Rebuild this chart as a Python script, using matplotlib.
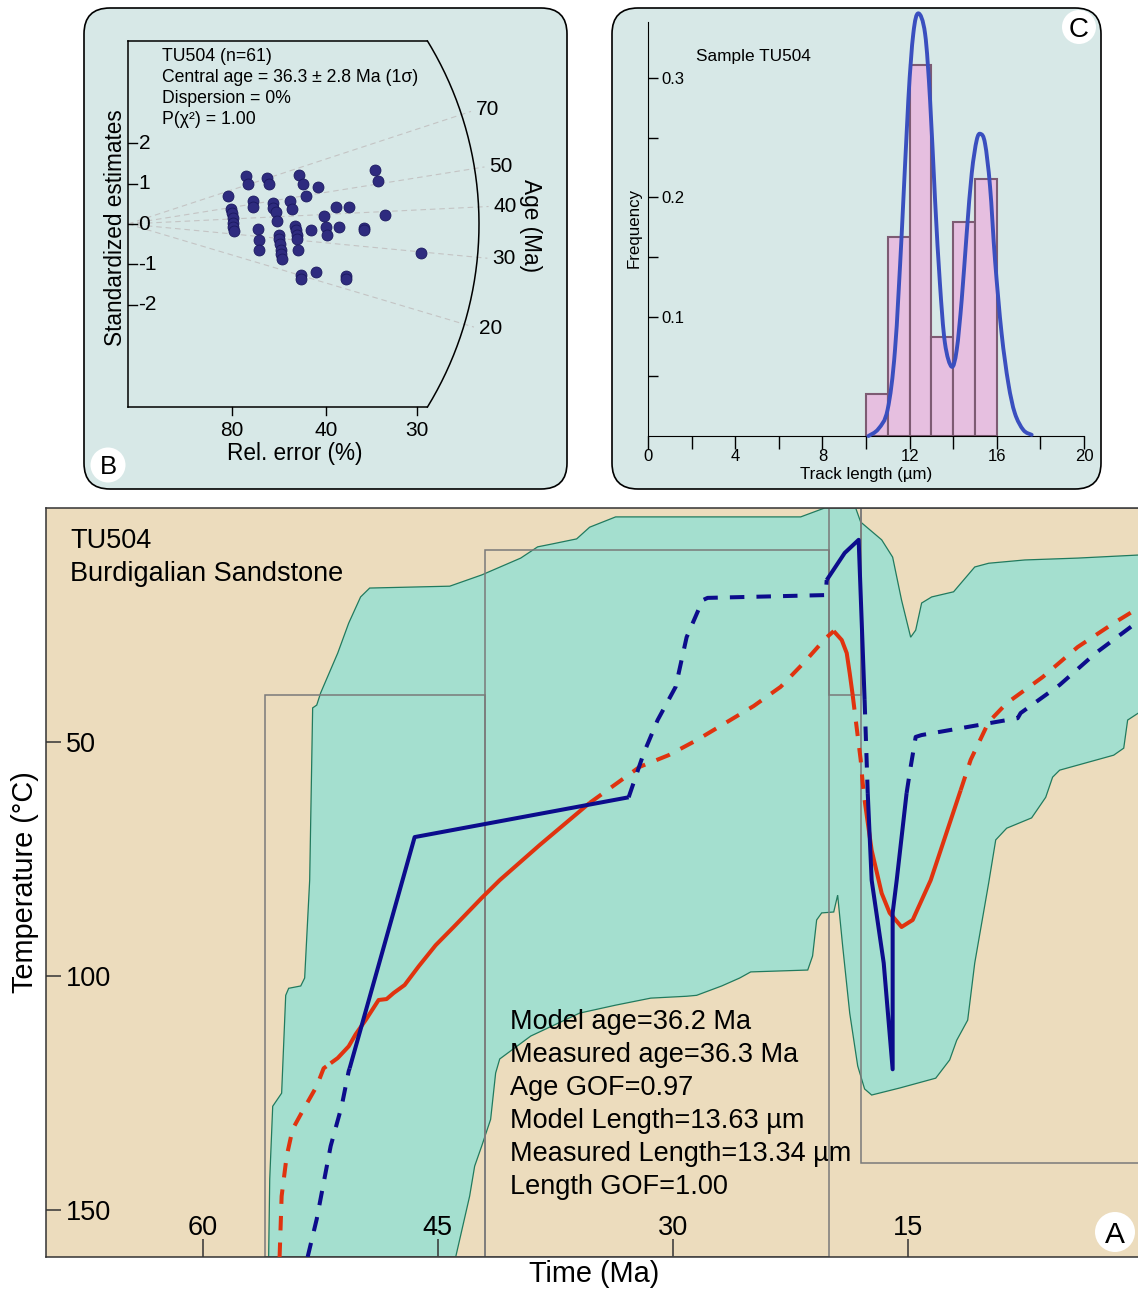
import numpy as np
import matplotlib.pyplot as plt
from matplotlib.patches import FancyBboxPatch, Circle, Rectangle, PathPatch
from matplotlib.path import Path

plt.rcParams['font.family'] = ['Liberation Sans', 'DejaVu Sans']

# ---------------- A: thermal history (time Ma, temperature degC) ----------------
env_cool_t = [55.79, 55.72, 55.53, 54.96, 54.70, 54.51, 53.74, 53.49, 53.17, 52.98, 52.72,
              52.47, 51.38, 50.68, 49.92, 49.34, 44.23, 42.19, 39.70, 38.62, 37.72, 36.13,
              35.30, 33.64, 21.83, 20.30, 18.32, 18.00, 16.66, 15.96, 15.39, 14.81, 14.49,
              14.11, 13.47, 12.07, 10.72, 9.83, 7.53, 4.15, 0.0]
env_cool_T = [160, 143.4, 127.8, 125.0, 104.1, 102.6, 102.1, 100.4, 79.5, 42.7, 42.1,
              39.5, 31.0, 24.6, 19.0, 17.1, 16.7, 14.3, 10.7, 8.3, 7.7, 6.6,
              4.1, 1.9, 1.9, 0, 0, 3.0, 6.8, 10.5, 19.7, 27.6, 26.1,
              20.3, 19.0, 17.9, 12.6, 11.8, 11.1, 10.7, 10.0]
env_hot_t = [0.0, 0.96, 1.21, 1.85, 5.30, 5.75, 6.19, 7.09, 8.68, 9.38, 9.83, 10.72, 11.17,
             11.87, 12.32, 13.21, 15.51, 17.30, 17.75, 18.19, 18.70, 19.15, 19.47, 19.72,
             20.49, 20.81, 21.07, 21.38, 25.02, 25.72, 26.87, 28.47, 29.11, 31.40, 33.64,
             35.94, 39.06, 41.04, 41.30, 41.62, 42.19, 42.64, 42.96, 43.85]
env_hot_T = [43.2, 45.3, 51.3, 52.8, 56.0, 57.5, 61.8, 66.2, 68.4, 70.9, 80.1, 97.2, 109.4,
             113.7, 117.9, 121.8, 123.9, 125.4, 124.1, 119.2, 107.9, 93.6, 82.7, 86.3,
             86.5, 88.0, 95.7, 98.7, 99.1, 100.4, 102.1, 104.1, 104.3, 104.7, 106.2,
             107.9, 112.8, 117.7, 120.7, 130.6, 136.3, 140.6, 147.0, 160]

# constraint boxes
box_t_old = [56, 42, 20, 18]
box_t_young = [42, 20, 18, 0]
box_T_top = [40, 9, 0, 0]
box_T_bot = [160, 160, 40, 140]

# weighted mean path (red) and best fit path (blue); cuts split dashed / solid pieces
red_t = [55.09, 54.96, 54.64, 54.26, 53.62, 52.72, 52.28, 51.83, 51.38, 50.68, 50.23, 49.60,
         48.77, 48.26, 47.81, 47.11, 46.21, 45.13, 43.98, 42.19, 41.04, 38.49, 35.30, 32.11,
         30.26, 28.47, 26.62, 24.83, 23.11, 21.64, 20.23, 19.72, 19.21, 18.89, 18.70, 18.51,
         18.26, 18.00, 17.87, 17.75, 17.30, 16.66, 16.15, 15.39, 14.68, 13.53, 11.62, 10.98,
         9.83, 8.68, 6.38, 4.15, 1.85, 0.0]
red_T = [160.0, 147.0, 138.5, 132.7, 128.8, 123.5, 119.7, 118.6, 117.5, 115.0, 112.4, 109.4,
         105.1, 104.9, 103.6, 101.9, 97.9, 93.4, 89.5, 83.3, 79.5, 72.0, 63.0, 55.3,
         52.8, 49.6, 45.9, 42.3, 38.2, 33.1, 27.8, 26.3, 28.2, 31.0, 35.3, 40.0,
         46.8, 53.8, 58.8, 62.4, 73.1, 82.3, 86.5, 89.5, 88.0, 79.5, 60.3, 53.8,
         45.7, 41.7, 36.1, 29.7, 24.6, 20.8]
red_cuts = [0, 7, 22, 31, 35, 39, 46, 53]

blue_t = [53.30, 52.72, 51.83, 51.13, 50.68, 50.62, 46.47, 32.81, 31.85, 30.96, 29.81, 29.11,
          28.09, 27.77, 20.23, 20.17, 19.02, 18.13, 17.75, 17.55, 17.30, 16.53, 15.96, 15.96,
          15.70, 15.07, 14.81, 14.49, 14.11, 7.98, 7.79, 5.30, 3.00, 0.0]
blue_T = [160.0, 151.9, 136.3, 127.8, 120.3, 119.7, 70.3, 61.8, 52.4, 45.3, 38.2, 27.6,
          19.7, 19.2, 18.6, 15.4, 9.6, 6.8, 41.0, 60.9, 79.5, 97.2, 119.9, 86.5,
          79.5, 60.9, 55.3, 48.9, 48.5, 44.9, 43.8, 37.8, 31.0, 23.5]
blue_cuts = [0, 5, 7, 15, 18, 19, 25, 33]

title_a = ['TU504', 'Burdigalian Sandstone']
stats_a = ['Model age=36.2 Ma', 'Measured age=36.3 Ma', 'Age GOF=0.97',
           'Model Length=13.63 µm', 'Measured Length=13.34 µm', 'Length GOF=1.00']

# ---------------- B: radial plot ----------------
rad_prec = [1.00, 1.03, 1.04, 1.05, 1.05, 1.05, 1.06, 1.18, 1.20, 1.25, 1.25, 1.30, 1.31, 1.31,
            1.39, 1.41, 1.45, 1.45, 1.48, 1.49, 1.51, 1.51, 1.52, 1.53, 1.53, 1.54, 1.62, 1.64,
            1.67, 1.68, 1.69, 1.69, 1.70, 1.71, 1.75, 1.78, 1.73, 1.73, 1.83, 1.88, 1.90, 1.96,
            1.98, 1.99, 2.08, 2.11, 2.18, 2.18, 2.21, 2.36, 2.36, 2.47, 2.50, 2.57, 2.93]
rad_z = [0.70, 0.37, 0.26, 0.14, 0.03, -0.07, -0.17, 1.19, 1.00, 0.57, 0.43, -0.13, -0.40, -0.64,
         1.13, 1.00, 0.51, 0.39, 0.29, 0.08, -0.27, -0.38, -0.50, -0.63, -0.74, -0.86, 0.57, 0.37,
         -0.05, -0.16, -0.27, -0.38, -0.63, 1.21, 1.00, 0.69, -1.27, -1.37, -0.16, -1.19, 0.91, 0.20,
         -0.07, -0.27, 0.41, -0.08, -1.28, -1.37, 0.41, -0.10, -0.15, 1.33, 1.06, 0.21, -0.71]
central_age = 36.3
age_ticks = [70, 50, 40, 30, 20]
z_ticks = [2, 1, 0, -1, -2]
rel_err_labels = ['80', '40', '30']
rel_err_pos = [1.04, 1.98, 2.89]
stats_b = ['TU504 (n=61)', 'Central age = 36.3 ± 2.8 Ma (1σ)', 'Dispersion = 0%', 'P(χ²) = 1.00']

# ---------------- C: track length histogram ----------------
len_edges = [10, 11, 12, 13, 14, 15, 16]
len_freq = [0.035, 0.167, 0.311, 0.083, 0.179, 0.215]
pdf_len = [10.11, 10.57, 10.99, 11.33, 11.64, 11.94, 12.17, 12.40, 12.71, 12.94, 13.17, 13.39,
           13.62, 13.93, 14.16, 14.39, 14.62, 14.85, 15.08, 15.26, 15.46, 15.69, 15.92, 16.22,
           16.53, 16.83, 17.22, 17.60]
pdf_freq = [0.000, 0.006, 0.022, 0.072, 0.170, 0.281, 0.337, 0.354, 0.337, 0.281, 0.197, 0.128,
            0.078, 0.058, 0.072, 0.114, 0.170, 0.220, 0.248, 0.253, 0.245, 0.209, 0.147, 0.086,
            0.044, 0.019, 0.005, 0.001]

# ---------------- figure ----------------
W, H = 1138, 1292
fig = plt.figure(figsize=(W / 100, H / 100), dpi=100)


def fbox(x0, y0, x1, y1):
    # pixel box (origin top-left) -> figure fraction rect
    return [x0 / W, 1 - y1 / H, (x1 - x0) / W, (y1 - y0) / H]


def smooth_path(x, y):
    # Catmull-Rom through the read points, drawn as cubic Bezier segments
    p = np.column_stack([x, y])
    verts, codes = [p[0]], [Path.MOVETO]
    for i in range(len(p) - 1):
        p0 = p[i - 1] if i > 0 else p[i]
        p1, p2 = p[i], p[i + 1]
        p3 = p[i + 2] if i + 2 < len(p) else p[i + 1]
        verts += [p1 + (p2 - p0) / 6, p2 - (p3 - p1) / 6, p2]
        codes += [Path.CURVE4] * 3
    return Path(verts, codes)


bg = fig.add_axes([0, 0, 1, 1], zorder=0)
bg.set_xlim(0, W)
bg.set_ylim(H, 0)
bg.axis('off')
for x0, x1 in [(84, 567), (612, 1101)]:
    bg.add_patch(FancyBboxPatch((x0, 8), x1 - x0, 481, boxstyle='round,pad=0,rounding_size=26',
                                fc='#d7e8e7', ec='black', lw=1.2))

# ---- panel A ----
ax = fig.add_axes(fbox(46, 508, 46 + 70 * 15.667, 1257), zorder=1)
ax.set_facecolor('#ecdcbd')
ax.fill(np.r_[env_cool_t, env_hot_t], np.r_[env_cool_T, env_hot_T],
        fc='#a4dfcf', ec='#217a5e', lw=0.9, zorder=1)
for t0, t1, T0, T1 in zip(box_t_old, box_t_young, box_T_top, box_T_bot):
    ax.add_patch(Rectangle((t1, T0), t0 - t1, T1 - T0, fill=False, ec='#7a7a7a', lw=1.1, zorder=2))


def draw_path(t, T, cuts, color):
    for i in range(len(cuts) - 1):
        a, b = cuts[i], cuts[i + 1]
        ls = (0, (3.6, 3.0)) if i % 2 == 0 else '-'
        ax.plot(t[a:b + 1], T[a:b + 1], color=color, lw=2.9, ls=ls,
                dash_capstyle='butt', solid_capstyle='butt', zorder=4)


draw_path(red_t, red_T, red_cuts, '#e0330f')
draw_path(blue_t, blue_T, blue_cuts, '#0c0c8c')

ax.set_xlim(70, 0)
ax.set_ylim(160, 0)
ax.set_xticks([60, 45, 30, 15])
ax.set_yticks([50, 100, 150])
ax.tick_params(axis='y', direction='in', length=10.5, width=1.1, pad=-14.5, labelsize=19.5, color='#333333')
ax.tick_params(axis='x', direction='in', length=13, width=1.1, pad=-11.5, labelsize=19.5, color='#333333')
for lbl in ax.get_yticklabels():
    lbl.set_ha('left')
for lbl in ax.get_xticklabels():
    lbl.set_va('bottom')
ax.spines['right'].set_visible(False)
for s in ['left', 'top', 'bottom']:
    ax.spines[s].set_linewidth(1.1)
    ax.spines[s].set_color('#333333')
ax.set_xlabel('Time (Ma)', fontsize=20.8, labelpad=2)
ax.set_ylabel('Temperature (°C)', fontsize=20.8, labelpad=5)

for i, line in enumerate(title_a):
    ax.annotate(line, xy=(0.0219, 0.956), xycoords='axes fraction', xytext=(0, -i * 23.76),
                textcoords='offset points', ha='left', va='center', fontsize=19.5, zorder=5)
for i, line in enumerate(stats_a):
    ax.annotate(line, xy=(0.4231, 0.3138), xycoords='axes fraction', xytext=(0, -i * 23.76),
                textcoords='offset points', ha='left', va='center', fontsize=19.5, zorder=5)

# ---- panel B ----
axb = fig.add_axes(fbox(128, 41, 518, 407), zorder=2)
axb.set_xlim(0, 3.9)
axb.set_ylim(-4.52, 4.52)
axb.axis('off')
zscale = 100 / 40.5      # pixel aspect between precision and z units
R = 3.51                 # arc radius (precision units)
zt = 4.52
th_max = np.arcsin(zt / (R * zscale))
th = np.linspace(-th_max, th_max, 200)
axb.plot(R * np.cos(th), R * zscale * np.sin(th), color='black', lw=1.1, clip_on=False)
axb.plot([0, 0], [-zt, zt], color='black', lw=1.1, clip_on=False)
axb.plot([0, R * np.cos(th_max)], [zt, zt], color='black', lw=1.1, clip_on=False)
axb.plot([0, R * np.cos(th_max)], [-zt, -zt], color='black', lw=1.1, clip_on=False)

for age in age_ticks:
    phi = np.arctan(0.5 * np.log(age / central_age))
    axb.plot([0, 3.61 * np.cos(phi)], [0, 3.61 * zscale * np.sin(phi)], color='#c4c4c4',
             lw=0.8, ls=(0, (5, 3.5)), clip_on=False, zorder=1)
    axb.text(3.66 * np.cos(phi), 3.66 * zscale * np.sin(phi), str(age), ha='left', va='center',
             fontsize=15, clip_on=False)

axb.scatter(rad_prec, rad_z, s=62, c='#2e2b7f', edgecolors='#1b1960', linewidths=0.6, zorder=3)

for z in z_ticks:
    axb.plot([0, 0.09], [z, z], color='black', lw=1)
    axb.text(0.105, z, str(z), ha='left', va='center', fontsize=15)
for p, lab in zip(rel_err_pos, rel_err_labels):
    axb.plot([p, p], [-zt, -zt - 0.2], color='black', lw=1, clip_on=False)
    axb.text(p, -zt - 0.57, lab, ha='center', va='center', fontsize=15)

axb.text(-0.033, 0.489, 'Standardized estimates', transform=axb.transAxes, rotation=90,
         ha='center', va='center', fontsize=16.3)
axb.text(0.428, -0.126, 'Rel. error (%)', transform=axb.transAxes, ha='center', va='center',
         fontsize=16.3)
axb.text(1.031, 0.497, 'Age (Ma)', transform=axb.transAxes, rotation=-90, ha='center',
         va='center', fontsize=16.3)
for i, line in enumerate(stats_b):
    axb.annotate(line, xy=(0.0872, 0.9563), xycoords='axes fraction', xytext=(0, -i * 15.12),
                 textcoords='offset points', ha='left', va='center', fontsize=12.7)

# ---- panel C ----
axc = fig.add_axes(fbox(648, 21.7, 1084, 436), zorder=2)
axc.set_facecolor('none')
axc.bar(len_edges[:-1], len_freq, width=np.diff(len_edges), align='edge',
        color='#e6bfe0', edgecolor='#7d5b73', lw=1.5, zorder=2)
axc.add_patch(PathPatch(smooth_path(pdf_len, pdf_freq), fill=False, ec='#3a4fbf', lw=2.8,
                        capstyle='round', joinstyle='round', zorder=3, clip_on=False))
axc.set_xlim(0, 20)
axc.set_ylim(0, 0.347)
axc.spines['top'].set_visible(False)
axc.spines['right'].set_visible(False)
axc.set_xticks(range(0, 21, 4))
axc.set_xticks(range(2, 21, 4), minor=True)
axc.set_yticks([0.1, 0.2, 0.3], ['0.1', '0.2', '0.3'])
axc.set_yticks([0.05, 0.15, 0.25], minor=True)
axc.tick_params(axis='x', which='both', direction='out', length=9, width=1, labelsize=12, pad=0.5)
axc.tick_params(axis='y', which='both', direction='in', length=7.2, width=1, labelsize=12, pad=-9.4)
for lbl in axc.get_yticklabels():
    lbl.set_ha('left')
axc.text(0.110, 0.915, 'Sample TU504', transform=axc.transAxes, ha='left', va='center', fontsize=12.4)
axc.text(0.5, -0.094, 'Track length (µm)', transform=axc.transAxes, ha='center', va='center',
         fontsize=12.2)
axc.text(-0.032, 0.502, 'Frequency', transform=axc.transAxes, rotation=90, ha='center',
         va='center', fontsize=12.2)

# ---- panel letters ----
fg = fig.add_axes([0, 0, 1, 1], zorder=10)
fg.set_xlim(0, W)
fg.set_ylim(H, 0)
fg.axis('off')
for (cx, cy, r, letter, fs) in [(108, 465, 17.5, 'B', 18.5), (1079, 27, 17, 'C', 20),
                                (1115, 1232, 20, 'A', 21.5)]:
    fg.add_patch(Circle((cx, cy), r, fc='white', ec='none'))
    fg.text(cx, cy, letter, ha='center', va='center_baseline', fontsize=fs)

fig.savefig('out.png', dpi=100)
